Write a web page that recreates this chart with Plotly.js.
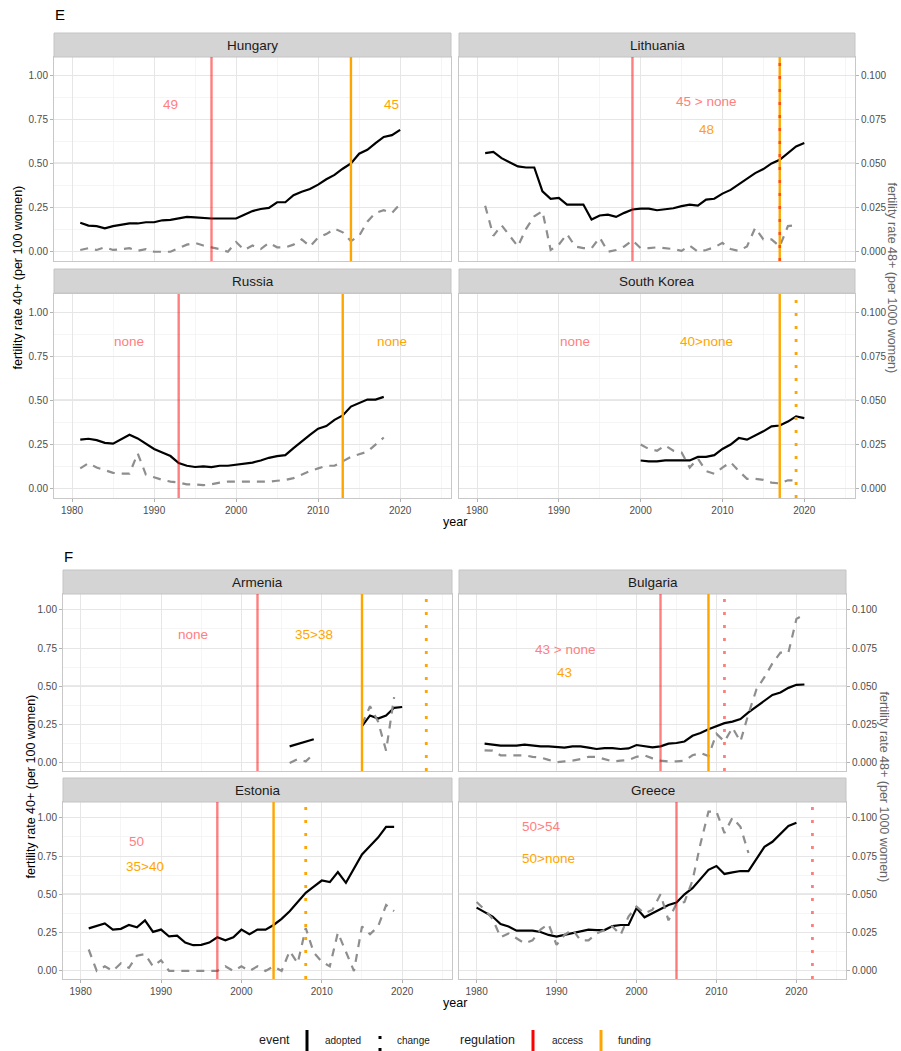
<!DOCTYPE html>
<html>
<head>
<meta charset="utf-8">
<script src="https://cdn.plot.ly/plotly-3.0.1.min.js"></script>
<style>html,body{margin:0;padding:0;background:#fff;}#chart{width:901px;height:1051px;}</style>
</head>
<body>
<div id="chart"></div>
<script>
// ---------------- DATA ----------------
// fertility rate 40+ (per 100 women) and 48+ (per 1000 women), by year
const hungaryStart = 1981;
const hungary40 = [0.164,0.148,0.145,0.133,0.145,0.152,0.16,0.16,0.167,0.167,0.178,0.18,0.19,0.197,0.194,0.19,0.188,0.188,0.186,0.188,0.21,0.23,0.242,0.248,0.28,0.28,0.32,0.34,0.355,0.38,0.41,0.435,0.47,0.50,0.555,0.577,0.615,0.65,0.66,0.69];
const hungary48 = [0.001,0.002,0.001,0.0025,0.001,0.0015,0.002,0.0005,0.0015,0,0,0,0.002,0.004,0.005,0.0035,0.0025,0.0015,0,0.0055,0.001,0.0035,0.0015,0.005,0.0025,0.0025,0.004,0.007,0.003,0.008,0.010,0.013,0.011,0.006,0.009,0.017,0.022,0.0235,0.022,0.027];

const lithuaniaStart = 1981;
const lithuania40 = [0.558,0.565,0.53,0.505,0.483,0.477,0.477,0.342,0.30,0.305,0.267,0.267,0.267,0.182,0.205,0.21,0.197,0.22,0.239,0.244,0.244,0.235,0.242,0.246,0.258,0.267,0.261,0.295,0.30,0.329,0.35,0.38,0.41,0.445,0.468,0.50,0.52,0.558,0.596,0.615];
const lithuania48 = [0.026,0.009,0.015,0.009,0.003,0.013,0.020,0.023,0.001,0.004,0.010,0.003,0.002,0.002,0.008,0,0.001,0.003,0.0065,0.002,0.002,0.0025,0.002,0.0015,0.0005,0.0035,0,0.001,0.0025,0.005,0.0015,0.0005,0.003,0.0135,0.007,0.007,0.003,0.0145,0.015];

const russiaStart = 1981;
const russia40 = [0.278,0.283,0.275,0.26,0.255,0.28,0.306,0.285,0.255,0.225,0.205,0.185,0.145,0.13,0.123,0.127,0.122,0.13,0.13,0.137,0.14,0.148,0.16,0.175,0.185,0.19,0.23,0.27,0.305,0.34,0.355,0.39,0.415,0.465,0.485,0.505,0.505,0.52];
const russia48 = [0.0115,0.0145,0.012,0.0105,0.009,0.0085,0.0085,0.020,0.008,0.0065,0.005,0.004,0.0035,0.0025,0.0025,0.002,0.0025,0.0035,0.004,0.004,0.004,0.004,0.004,0.004,0.0045,0.005,0.006,0.008,0.010,0.0115,0.013,0.013,0.0155,0.018,0.0195,0.021,0.025,0.029];

const koreaStart = 2000;
const korea40 = [0.16,0.155,0.155,0.16,0.16,0.158,0.16,0.18,0.18,0.19,0.225,0.25,0.287,0.278,0.30,0.325,0.353,0.358,0.38,0.41,0.40];
const korea48 = [0.025,0.0225,0.0215,0.0245,0.0215,0.0205,0.012,0.017,0.010,0.0085,0.012,0.015,0.010,0.0056,0.0056,0.005,0.0035,0.003,0.0048,0.0047];

const armeniaStart = 2006;
const armenia40 = [0.108,0.125,0.14,0.155,null,null,null,null,null,0.24,0.31,0.29,0.31,0.36,0.365];
const armenia48 = [0,0.0025,0.001,0.006,null,null,null,null,null,0.025,0.037,0.027,0.008,0.043,null];

const bulgariaStart = 1981;
const bulgaria40 = [0.126,0.119,0.113,0.113,0.113,0.119,0.113,0.108,0.108,0.104,0.10,0.108,0.108,0.10,0.091,0.097,0.097,0.091,0.095,0.117,0.108,0.102,0.108,0.126,0.13,0.14,0.177,0.195,0.22,0.238,0.26,0.27,0.286,0.33,0.368,0.41,0.444,0.46,0.49,0.51,0.512];
const bulgaria48 = [0.0082,0.008,0.005,0.005,0.005,0.005,0.004,0.0035,0.002,0.0005,0.001,0.0015,0.0025,0.004,0.004,0.0025,0.001,0.0015,0.002,0.004,0.005,0.003,0.0015,0.001,0.001,0.0015,0.005,0.0065,0.0045,0.019,0.014,0.023,0.014,0.032,0.048,0.056,0.065,0.072,0.072,0.094,0.097];

const estoniaStart = 1981;
const estonia40 = [0.278,0.295,0.31,0.27,0.275,0.30,0.285,0.33,0.255,0.27,0.225,0.23,0.185,0.168,0.17,0.185,0.22,0.20,0.22,0.27,0.24,0.27,0.27,0.30,0.34,0.39,0.45,0.51,0.55,0.59,0.58,0.645,0.575,0.67,0.76,0.815,0.87,0.94,0.94];
const estonia48 = [0.014,0,0.003,0,0.005,0.002,0.010,0.011,0.003,0.007,0,0,0,0,0,0,0,0.003,0,0.003,0,0.003,0,0.003,0,0.013,0.005,0.028,0.012,0.006,0.003,0.025,0.012,0,0.029,0.024,0.029,0.043,0.039];

const greeceStart = 1980;
const greece40 = [0.413,0.385,0.355,0.306,0.29,0.263,0.263,0.263,0.254,0.235,0.224,0.235,0.25,0.257,0.27,0.267,0.267,0.293,0.30,0.30,0.41,0.35,0.376,0.40,0.43,0.446,0.50,0.54,0.60,0.66,0.685,0.633,0.643,0.652,0.652,0.735,0.81,0.843,0.893,0.946,0.967];
const greece48 = [0.045,0.040,0.034,0.022,0.0245,0.021,0.018,0.020,0.027,0.0306,0.017,0.0235,0.027,0.020,0.020,0.0245,0.027,0.029,0.0235,0.0355,0.042,0.0376,0.040,0.050,0.033,0.044,0.045,0.059,0.083,0.104,0.104,0.090,0.100,0.094,0.077];

// regulation events: [country, year, regulation, event]
const events = [
  ['Hungary',1997,'access','adopted'],['Hungary',2014,'funding','adopted'],
  ['Lithuania',1999,'access','adopted'],['Lithuania',2017,'funding','adopted'],['Lithuania',2017,'access','change'],
  ['Russia',1993,'access','adopted'],['Russia',2013,'funding','adopted'],
  ['South Korea',2017,'funding','adopted'],['South Korea',2019,'funding','change'],
  ['Armenia',2002,'access','adopted'],['Armenia',2015,'funding','adopted'],['Armenia',2023,'funding','change'],
  ['Bulgaria',2003,'access','adopted'],['Bulgaria',2009,'funding','adopted'],['Bulgaria',2011,'access','change'],
  ['Estonia',1997,'access','adopted'],['Estonia',2004,'funding','adopted'],['Estonia',2008,'funding','change'],
  ['Greece',2005,'access','adopted'],['Greece',2022,'access','change']
];
// age-limit labels: [country, text, regulation, year, level]
const ageLabels = [
  ['Hungary','49','access',1992,0.835],['Hungary','45','funding',2019,0.835],
  ['Lithuania','45 > none','access',2008,0.853],['Lithuania','48','funding',2008,0.694],
  ['Russia','none','access',1987,0.835],['Russia','none','funding',2019,0.835],
  ['South Korea','none','access',1992,0.835],['South Korea','40>none','funding',2008,0.835],
  ['Armenia','none','access',1994,0.838],['Armenia','35>38','funding',2009,0.838],
  ['Bulgaria','43 > none','access',1991,0.74],['Bulgaria','43','funding',1991,0.59],
  ['Estonia','50','access',1987,0.843],['Estonia','35>40','funding',1988,0.68],
  ['Greece','50>54','access',1988,0.94],['Greece','50>none','funding',1989,0.735]
];
const referenceLevel = 0.5;
const xTicks = [1980,1990,2000,2010,2020];

// ---------------- LAYOUT ----------------
const W = 901, H = 1051;
const FONT = 'Liberation Sans, Arial, sans-serif';
const px = x => x / W;
const py = y => 1 - y / H;
const years = (start, n) => Array.from({length: n}, (_, i) => start + i);

const facets = [
  {name:'Hungary',     s:hungaryStart,   v40:hungary40,   v48:hungary48,   X:[54,451],  strip:[33,57],   plot:[57,261],  left:true,  bottom:false},
  {name:'Lithuania',   s:lithuaniaStart, v40:lithuania40, v48:lithuania48, X:[459,855], strip:[33,57],   plot:[57,261],  left:false, bottom:false},
  {name:'Russia',      s:russiaStart,    v40:russia40,    v48:russia48,    X:[54,451],  strip:[269,293], plot:[294,498], left:true,  bottom:true},
  {name:'South Korea', s:koreaStart,     v40:korea40,     v48:korea48,     X:[459,855], strip:[269,293], plot:[294,498], left:false, bottom:true},
  {name:'Armenia',     s:armeniaStart,   v40:armenia40,   v48:armenia48,   X:[63,452],  strip:[570,594], plot:[594,771], left:true,  bottom:false},
  {name:'Bulgaria',    s:bulgariaStart,  v40:bulgaria40,  v48:bulgaria48,  X:[459,846], strip:[570,594], plot:[594,771], left:false, bottom:false},
  {name:'Estonia',     s:estoniaStart,   v40:estonia40,   v48:estonia48,   X:[63,452],  strip:[778,802], plot:[802,979], left:true,  bottom:true},
  {name:'Greece',      s:greeceStart,    v40:greece40,    v48:greece48,    X:[459,846], strip:[778,802], plot:[802,979], left:false, bottom:true}
];

const regColor = {access:'rgba(255,0,0,0.5)', funding:'#FFA500'};
const regText = {access:'#FF8080', funding:'#FFA500'};

const traces = [];
const layout = {
  width: W, height: H, autosize: false,
  margin: {l:0, r:0, t:0, b:0},
  paper_bgcolor: '#ffffff', plot_bgcolor: '#ffffff',
  showlegend: false,
  font: {family: FONT, color: '#4D4D4D'},
  shapes: [], annotations: []
};

const tickFont = {family: FONT, size: 10, color: '#4D4D4D'};

facets.forEach((f, k) => {
  const i = k + 1;
  const xa = i === 1 ? 'x' : 'x' + i;
  const ya = i === 1 ? 'y' : 'y' + i;
  const ya2 = 'y' + (i + 8);
  const xKey = i === 1 ? 'xaxis' : 'xaxis' + i;
  const yKey = i === 1 ? 'yaxis' : 'yaxis' + i;
  const y2Key = 'yaxis' + (i + 8);

  layout[xKey] = {
    domain: [px(f.X[0]), px(f.X[1])], anchor: ya,
    range: [1977.8, 2026.2], tickmode: 'array', tickvals: xTicks,
    showticklabels: f.bottom, ticks: f.bottom ? 'outside' : '', ticklen: 3, tickcolor: '#B3B3B3',
    tickfont: tickFont,
    showgrid: true, gridcolor: '#E6E6E6', gridwidth: 1,
    minor: {dtick: 5, tick0: 1980, showgrid: true, gridcolor: '#F3F3F3', gridwidth: 0.8},
    showline: true, mirror: true, linecolor: '#C8C8C8', linewidth: 1,
    zeroline: false, fixedrange: true
  };
  layout[yKey] = {
    domain: [py(f.plot[1]), py(f.plot[0])], anchor: xa,
    range: [-0.0525, 1.1025], tick0: 0, dtick: 0.25, tickformat: '.2f',
    showticklabels: f.left, ticks: f.left ? 'outside' : '', ticklen: 3, tickcolor: '#B3B3B3',
    tickfont: tickFont,
    showgrid: true, gridcolor: '#E6E6E6', gridwidth: 1,
    minor: {dtick: 0.125, tick0: 0, showgrid: true, gridcolor: '#F3F3F3', gridwidth: 0.8},
    showline: true, mirror: true, linecolor: '#C8C8C8', linewidth: 1,
    zeroline: false, fixedrange: true
  };
  layout[y2Key] = {
    overlaying: ya, anchor: xa, side: 'right',
    range: [-0.00525, 0.11025], tick0: 0, dtick: 0.025, tickformat: '.3f',
    showticklabels: !f.left, ticks: !f.left ? 'outside' : '', ticklen: 3, tickcolor: '#B3B3B3',
    tickfont: tickFont,
    showgrid: false, zeroline: false, showline: false, fixedrange: true
  };

  // strip
  layout.shapes.push({type:'rect', xref:'paper', yref:'paper',
    x0: px(f.X[0]), x1: px(f.X[1]), y0: py(f.strip[1]), y1: py(f.strip[0]),
    fillcolor:'#D4D4D4', line:{color:'#C4C4C4', width:1}, layer:'above'});
  layout.annotations.push({xref:'paper', yref:'paper', x: px((f.X[0]+f.X[1])/2), y: py((f.strip[0]+f.strip[1])/2),
    text: f.name, showarrow:false, xanchor:'center', yanchor:'middle',
    font:{family:FONT, size:13.5, color:'#1A1A1A'}});

  // reference level line
  layout.shapes.push({type:'line', xref: xa + ' domain', yref: ya, x0: 0, x1: 1, y0: referenceLevel, y1: referenceLevel,
    line:{color:'#A8A8A8', width:1.4}, layer:'below'});

  // series
  traces.push({
    type:'scatter', mode:'lines', x: years(f.s, f.v48.length), y: f.v48,
    xaxis: xa, yaxis: ya2, connectgaps:false, hoverinfo:'skip',
    line:{color:'#8E8E8E', width:2.2, dash:'8px,7px'}
  });
  traces.push({
    type:'scatter', mode:'lines', x: years(f.s, f.v40.length), y: f.v40,
    xaxis: xa, yaxis: ya, connectgaps:false, hoverinfo:'skip',
    line:{color:'#000000', width:2.2}
  });

  // events
  events.filter(e => e[0] === f.name)
    .sort((a, b) => (a[3] === 'change') - (b[3] === 'change'))
    .forEach(e => {
      layout.shapes.push({type:'line', xref: xa, yref: ya + ' domain',
        x0: e[1], x1: e[1], y0: 0, y1: 1,
        line:{color: regColor[e[2]], width: e[3] === 'adopted' ? 2.4 : 2.8, dash: e[3] === 'adopted' ? 'solid' : '3px,10px'},
        layer:'above'});
    });

  // labels
  ageLabels.filter(a => a[0] === f.name).forEach(a => {
    layout.annotations.push({xref: xa, yref: ya, x: a[3], y: a[4], text: a[1], showarrow:false,
      xanchor:'center', yanchor:'middle', font:{family:FONT, size:13.5, color: regText[a[2]]}});
  });
});

// panel letters and axis titles
const txt = (x, y, text, size, color, angle) => layout.annotations.push({
  xref:'paper', yref:'paper', x: px(x), y: py(y), text, showarrow:false,
  xanchor:'center', yanchor:'middle', textangle: angle || 0,
  font:{family:FONT, size, color}});

txt(60, 15, 'E', 15, '#000000');
txt(68, 556, 'F', 15, '#000000');
txt(454.5, 522, 'year', 12.5, '#000000');
txt(454.5, 1003, 'year', 12.5, '#000000');
txt(18, 277.5, 'fertility rate 40+ (per 100 women)', 12.5, '#000000', -90);
txt(30, 786.5, 'fertility rate 40+ (per 100 women)', 12.5, '#000000', -90);
txt(891, 277.5, 'fertility rate 48+ (per 1000 women)', 12.5, '#666666', 90);
txt(884, 786.5, 'fertility rate 48+ (per 1000 women)', 12.5, '#666666', 90);

// legend
txt(274, 1040, 'event', 12.5, '#1A1A1A');
txt(343, 1040, 'adopted', 10, '#1A1A1A');
txt(413, 1040, 'change', 10, '#1A1A1A');
txt(487, 1040, 'regulation', 12.5, '#1A1A1A');
txt(567, 1040, 'access', 10, '#1A1A1A');
txt(634, 1040, 'funding', 10, '#1A1A1A');
const legKey = (x, color, dash) => layout.shapes.push({type:'line', xref:'paper', yref:'paper',
  x0: px(x), x1: px(x), y0: py(1051), y1: py(1030), line:{color, width:3, dash}});
legKey(307, '#000000', 'solid');
legKey(380, '#000000', '3px,9px');
legKey(533, '#FF0000', 'solid');
legKey(601, '#FFA500', 'solid');

Plotly.newPlot('chart', traces, layout, {displayModeBar:false, staticPlot:true});
</script>
</body>
</html>
